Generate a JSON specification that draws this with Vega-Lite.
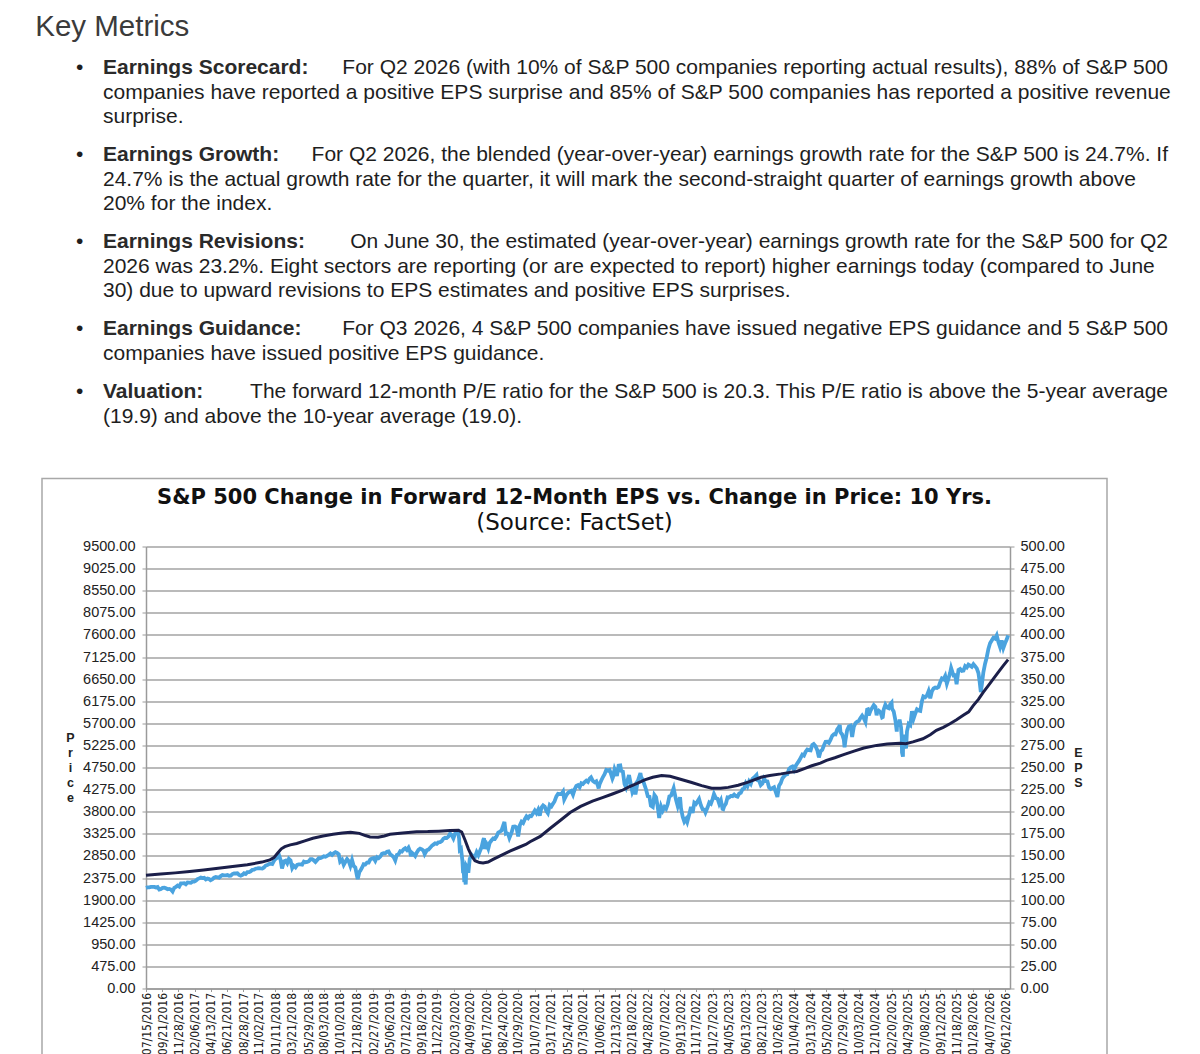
{
  "$schema": "https://vega.github.io/schema/vega-lite/v6.json",
  "background": "white",
  "padding": {"left": 35, "top": 11, "right": 0, "bottom": 0},
  "title": {
    "text": "Key Metrics",
    "anchor": "start",
    "frame": "bounds",
    "font": "Liberation Sans",
    "fontSize": 29.5,
    "fontWeight": "normal",
    "color": "#3b3b3b",
    "dx": -6,
    "offset": 14
  },
  "datasets": {
    "doc": [
      {"para": 1, "line": 1, "col": "bullet", "kind": "plain", "text": "•"},
      {"para": 1, "line": 1, "col": "text", "kind": "head", "text": "Earnings Scorecard:"},
      {"para": 1, "line": 1, "col": "text", "kind": "body", "text": "For Q2 2026 (with 10% of S&P 500 companies reporting actual results), 88% of S&P 500"},
      {"para": 1, "line": 2, "col": "text", "kind": "plain", "text": "companies have reported a positive EPS surprise and 85% of S&P 500 companies has reported a positive revenue"},
      {"para": 1, "line": 3, "col": "text", "kind": "plain", "text": "surprise."},
      {"para": 2, "line": 1, "col": "bullet", "kind": "plain", "text": "•"},
      {"para": 2, "line": 1, "col": "text", "kind": "head", "text": "Earnings Growth:"},
      {"para": 2, "line": 1, "col": "text", "kind": "body", "text": "For Q2 2026, the blended (year-over-year) earnings growth rate for the S&P 500 is 24.7%. If"},
      {"para": 2, "line": 2, "col": "text", "kind": "plain", "text": "24.7% is the actual growth rate for the quarter, it will mark the second-straight quarter of earnings growth above"},
      {"para": 2, "line": 3, "col": "text", "kind": "plain", "text": "20% for the index."},
      {"para": 3, "line": 1, "col": "bullet", "kind": "plain", "text": "•"},
      {"para": 3, "line": 1, "col": "text", "kind": "head", "text": "Earnings Revisions:"},
      {"para": 3, "line": 1, "col": "text", "kind": "body", "text": "On June 30, the estimated (year-over-year) earnings growth rate for the S&P 500 for Q2"},
      {"para": 3, "line": 2, "col": "text", "kind": "plain", "text": "2026 was 23.2%. Eight sectors are reporting (or are expected to report) higher earnings today (compared to June"},
      {"para": 3, "line": 3, "col": "text", "kind": "plain", "text": "30) due to upward revisions to EPS estimates and positive EPS surprises."},
      {"para": 4, "line": 1, "col": "bullet", "kind": "plain", "text": "•"},
      {"para": 4, "line": 1, "col": "text", "kind": "head", "text": "Earnings Guidance:"},
      {"para": 4, "line": 1, "col": "text", "kind": "body", "text": "For Q3 2026, 4 S&P 500 companies have issued negative EPS guidance and 5 S&P 500"},
      {"para": 4, "line": 2, "col": "text", "kind": "plain", "text": "companies have issued positive EPS guidance."},
      {"para": 5, "line": 1, "col": "bullet", "kind": "plain", "text": "•"},
      {"para": 5, "line": 1, "col": "text", "kind": "head", "text": "Valuation:"},
      {"para": 5, "line": 1, "col": "text", "kind": "body", "text": "The forward 12-month P/E ratio for the S&P 500 is 20.3. This P/E ratio is above the 5-year average"},
      {"para": 5, "line": 2, "col": "text", "kind": "plain", "text": "(19.9) and above the 10-year average (19.0)."}
    ],
    "price": [
      {"date": "2016-07-15", "price": 2162}, {"date": "2016-07-22", "price": 2175}, {"date": "2016-07-29", "price": 2174},
      {"date": "2016-08-05", "price": 2183}, {"date": "2016-08-12", "price": 2184}, {"date": "2016-08-19", "price": 2184},
      {"date": "2016-08-26", "price": 2169}, {"date": "2016-09-02", "price": 2180}, {"date": "2016-09-09", "price": 2128},
      {"date": "2016-09-16", "price": 2139}, {"date": "2016-09-23", "price": 2165}, {"date": "2016-09-30", "price": 2168},
      {"date": "2016-10-07", "price": 2153}, {"date": "2016-10-14", "price": 2133}, {"date": "2016-10-21", "price": 2141},
      {"date": "2016-10-28", "price": 2126}, {"date": "2016-11-04", "price": 2085}, {"date": "2016-11-11", "price": 2164},
      {"date": "2016-11-18", "price": 2182}, {"date": "2016-11-25", "price": 2213}, {"date": "2016-12-02", "price": 2192},
      {"date": "2016-12-09", "price": 2259}, {"date": "2016-12-16", "price": 2258}, {"date": "2016-12-23", "price": 2264},
      {"date": "2016-12-30", "price": 2239},
      {"date": "2017-01-06", "price": 2277}, {"date": "2017-01-13", "price": 2275}, {"date": "2017-01-20", "price": 2271},
      {"date": "2017-01-27", "price": 2295}, {"date": "2017-02-03", "price": 2297}, {"date": "2017-02-10", "price": 2316},
      {"date": "2017-02-17", "price": 2351}, {"date": "2017-02-24", "price": 2367}, {"date": "2017-03-03", "price": 2383},
      {"date": "2017-03-10", "price": 2373}, {"date": "2017-03-17", "price": 2378}, {"date": "2017-03-24", "price": 2344},
      {"date": "2017-03-31", "price": 2363}, {"date": "2017-04-07", "price": 2355}, {"date": "2017-04-13", "price": 2329},
      {"date": "2017-04-21", "price": 2349}, {"date": "2017-04-28", "price": 2384}, {"date": "2017-05-05", "price": 2399},
      {"date": "2017-05-12", "price": 2391}, {"date": "2017-05-19", "price": 2382}, {"date": "2017-05-26", "price": 2416},
      {"date": "2017-06-02", "price": 2439}, {"date": "2017-06-09", "price": 2432}, {"date": "2017-06-16", "price": 2433},
      {"date": "2017-06-23", "price": 2438}, {"date": "2017-06-30", "price": 2423}, {"date": "2017-07-07", "price": 2425},
      {"date": "2017-07-14", "price": 2459}, {"date": "2017-07-21", "price": 2473}, {"date": "2017-07-28", "price": 2472},
      {"date": "2017-08-04", "price": 2477}, {"date": "2017-08-11", "price": 2441}, {"date": "2017-08-18", "price": 2426},
      {"date": "2017-08-25", "price": 2443}, {"date": "2017-09-01", "price": 2477}, {"date": "2017-09-08", "price": 2461},
      {"date": "2017-09-15", "price": 2500}, {"date": "2017-09-22", "price": 2502}, {"date": "2017-09-29", "price": 2519},
      {"date": "2017-10-06", "price": 2549}, {"date": "2017-10-13", "price": 2553}, {"date": "2017-10-20", "price": 2575},
      {"date": "2017-10-27", "price": 2581}, {"date": "2017-11-03", "price": 2588}, {"date": "2017-11-10", "price": 2582},
      {"date": "2017-11-17", "price": 2578}, {"date": "2017-11-24", "price": 2602}, {"date": "2017-12-01", "price": 2642},
      {"date": "2017-12-08", "price": 2652}, {"date": "2017-12-15", "price": 2675}, {"date": "2017-12-22", "price": 2683},
      {"date": "2017-12-29", "price": 2674},
      {"date": "2018-01-05", "price": 2743}, {"date": "2018-01-12", "price": 2786}, {"date": "2018-01-19", "price": 2810},
      {"date": "2018-01-26", "price": 2873}, {"date": "2018-02-02", "price": 2762}, {"date": "2018-02-08", "price": 2581},
      {"date": "2018-02-16", "price": 2732}, {"date": "2018-02-23", "price": 2747}, {"date": "2018-03-02", "price": 2691},
      {"date": "2018-03-09", "price": 2786}, {"date": "2018-03-16", "price": 2752}, {"date": "2018-03-23", "price": 2588},
      {"date": "2018-03-29", "price": 2641}, {"date": "2018-04-06", "price": 2604}, {"date": "2018-04-13", "price": 2656},
      {"date": "2018-04-20", "price": 2670}, {"date": "2018-04-27", "price": 2670}, {"date": "2018-05-04", "price": 2663},
      {"date": "2018-05-11", "price": 2728}, {"date": "2018-05-18", "price": 2713}, {"date": "2018-05-25", "price": 2721},
      {"date": "2018-06-01", "price": 2735}, {"date": "2018-06-08", "price": 2779}, {"date": "2018-06-15", "price": 2780},
      {"date": "2018-06-22", "price": 2755}, {"date": "2018-06-29", "price": 2718}, {"date": "2018-07-06", "price": 2760},
      {"date": "2018-07-13", "price": 2801}, {"date": "2018-07-20", "price": 2802}, {"date": "2018-07-27", "price": 2819},
      {"date": "2018-08-03", "price": 2840}, {"date": "2018-08-10", "price": 2833}, {"date": "2018-08-17", "price": 2850},
      {"date": "2018-08-24", "price": 2875}, {"date": "2018-08-31", "price": 2902}, {"date": "2018-09-07", "price": 2872},
      {"date": "2018-09-14", "price": 2905}, {"date": "2018-09-21", "price": 2930}, {"date": "2018-09-28", "price": 2914},
      {"date": "2018-10-05", "price": 2885}, {"date": "2018-10-11", "price": 2728}, {"date": "2018-10-19", "price": 2768},
      {"date": "2018-10-26", "price": 2658}, {"date": "2018-11-02", "price": 2723}, {"date": "2018-11-09", "price": 2781},
      {"date": "2018-11-16", "price": 2736}, {"date": "2018-11-23", "price": 2633}, {"date": "2018-11-30", "price": 2760},
      {"date": "2018-12-07", "price": 2633}, {"date": "2018-12-14", "price": 2600}, {"date": "2018-12-21", "price": 2417},
      {"date": "2018-12-24", "price": 2351}, {"date": "2018-12-31", "price": 2507},
      {"date": "2019-01-04", "price": 2532}, {"date": "2019-01-11", "price": 2596}, {"date": "2019-01-18", "price": 2671},
      {"date": "2019-01-25", "price": 2665}, {"date": "2019-02-01", "price": 2707}, {"date": "2019-02-08", "price": 2708},
      {"date": "2019-02-15", "price": 2776}, {"date": "2019-02-22", "price": 2793}, {"date": "2019-03-01", "price": 2804},
      {"date": "2019-03-08", "price": 2743}, {"date": "2019-03-15", "price": 2822}, {"date": "2019-03-22", "price": 2800},
      {"date": "2019-03-29", "price": 2834}, {"date": "2019-04-05", "price": 2893}, {"date": "2019-04-12", "price": 2907},
      {"date": "2019-04-19", "price": 2905}, {"date": "2019-04-26", "price": 2940}, {"date": "2019-05-03", "price": 2946},
      {"date": "2019-05-10", "price": 2881}, {"date": "2019-05-17", "price": 2860}, {"date": "2019-05-24", "price": 2826},
      {"date": "2019-05-31", "price": 2752}, {"date": "2019-06-07", "price": 2873}, {"date": "2019-06-14", "price": 2887},
      {"date": "2019-06-21", "price": 2950}, {"date": "2019-06-28", "price": 2942}, {"date": "2019-07-05", "price": 2990},
      {"date": "2019-07-12", "price": 3014}, {"date": "2019-07-19", "price": 2977}, {"date": "2019-07-26", "price": 3026},
      {"date": "2019-08-02", "price": 2932}, {"date": "2019-08-05", "price": 2844}, {"date": "2019-08-09", "price": 2919},
      {"date": "2019-08-16", "price": 2889}, {"date": "2019-08-23", "price": 2847}, {"date": "2019-08-30", "price": 2926},
      {"date": "2019-09-06", "price": 2979}, {"date": "2019-09-13", "price": 3007}, {"date": "2019-09-20", "price": 2992},
      {"date": "2019-09-27", "price": 2962}, {"date": "2019-10-02", "price": 2887}, {"date": "2019-10-11", "price": 2970},
      {"date": "2019-10-18", "price": 2986}, {"date": "2019-10-25", "price": 3023}, {"date": "2019-11-01", "price": 3067},
      {"date": "2019-11-08", "price": 3093}, {"date": "2019-11-15", "price": 3120}, {"date": "2019-11-22", "price": 3110},
      {"date": "2019-11-29", "price": 3141}, {"date": "2019-12-06", "price": 3146}, {"date": "2019-12-13", "price": 3169},
      {"date": "2019-12-20", "price": 3221}, {"date": "2019-12-27", "price": 3240},
      {"date": "2020-01-03", "price": 3235}, {"date": "2020-01-10", "price": 3265}, {"date": "2020-01-17", "price": 3330},
      {"date": "2020-01-24", "price": 3295}, {"date": "2020-01-31", "price": 3226}, {"date": "2020-02-07", "price": 3328},
      {"date": "2020-02-14", "price": 3380}, {"date": "2020-02-19", "price": 3386}, {"date": "2020-02-24", "price": 3226},
      {"date": "2020-02-27", "price": 2979}, {"date": "2020-03-03", "price": 3003}, {"date": "2020-03-09", "price": 2747},
      {"date": "2020-03-12", "price": 2481}, {"date": "2020-03-13", "price": 2711}, {"date": "2020-03-16", "price": 2386},
      {"date": "2020-03-18", "price": 2398}, {"date": "2020-03-23", "price": 2237}, {"date": "2020-03-26", "price": 2630},
      {"date": "2020-03-31", "price": 2585}, {"date": "2020-04-03", "price": 2489}, {"date": "2020-04-09", "price": 2790},
      {"date": "2020-04-17", "price": 2875}, {"date": "2020-04-24", "price": 2837}, {"date": "2020-05-01", "price": 2830},
      {"date": "2020-05-08", "price": 2930}, {"date": "2020-05-15", "price": 2864}, {"date": "2020-05-22", "price": 2955},
      {"date": "2020-05-29", "price": 3044}, {"date": "2020-06-05", "price": 3194}, {"date": "2020-06-08", "price": 3232},
      {"date": "2020-06-11", "price": 3002}, {"date": "2020-06-19", "price": 3098}, {"date": "2020-06-26", "price": 3009},
      {"date": "2020-07-02", "price": 3130}, {"date": "2020-07-10", "price": 3185}, {"date": "2020-07-17", "price": 3225},
      {"date": "2020-07-24", "price": 3216}, {"date": "2020-07-31", "price": 3271}, {"date": "2020-08-07", "price": 3351},
      {"date": "2020-08-14", "price": 3373}, {"date": "2020-08-21", "price": 3397}, {"date": "2020-08-28", "price": 3508},
      {"date": "2020-09-02", "price": 3580}, {"date": "2020-09-08", "price": 3332}, {"date": "2020-09-11", "price": 3341},
      {"date": "2020-09-18", "price": 3319}, {"date": "2020-09-23", "price": 3237}, {"date": "2020-10-02", "price": 3348},
      {"date": "2020-10-09", "price": 3477}, {"date": "2020-10-16", "price": 3484}, {"date": "2020-10-23", "price": 3465},
      {"date": "2020-10-30", "price": 3270}, {"date": "2020-11-06", "price": 3510}, {"date": "2020-11-13", "price": 3585},
      {"date": "2020-11-20", "price": 3558}, {"date": "2020-11-27", "price": 3638}, {"date": "2020-12-04", "price": 3699},
      {"date": "2020-12-11", "price": 3663}, {"date": "2020-12-18", "price": 3709}, {"date": "2020-12-24", "price": 3703},
      {"date": "2020-12-31", "price": 3756},
      {"date": "2021-01-08", "price": 3825}, {"date": "2021-01-15", "price": 3768}, {"date": "2021-01-22", "price": 3841},
      {"date": "2021-01-29", "price": 3714}, {"date": "2021-02-05", "price": 3887}, {"date": "2021-02-12", "price": 3934},
      {"date": "2021-02-19", "price": 3907}, {"date": "2021-02-26", "price": 3811}, {"date": "2021-03-04", "price": 3768},
      {"date": "2021-03-12", "price": 3943}, {"date": "2021-03-19", "price": 3913}, {"date": "2021-03-26", "price": 3975},
      {"date": "2021-04-01", "price": 4020}, {"date": "2021-04-09", "price": 4129}, {"date": "2021-04-16", "price": 4185},
      {"date": "2021-04-23", "price": 4180}, {"date": "2021-04-30", "price": 4181}, {"date": "2021-05-07", "price": 4233},
      {"date": "2021-05-12", "price": 4063}, {"date": "2021-05-21", "price": 4156}, {"date": "2021-05-28", "price": 4204},
      {"date": "2021-06-04", "price": 4230}, {"date": "2021-06-11", "price": 4247}, {"date": "2021-06-18", "price": 4166},
      {"date": "2021-06-25", "price": 4281}, {"date": "2021-07-02", "price": 4352}, {"date": "2021-07-09", "price": 4370},
      {"date": "2021-07-16", "price": 4327}, {"date": "2021-07-23", "price": 4412}, {"date": "2021-07-30", "price": 4395},
      {"date": "2021-08-06", "price": 4437}, {"date": "2021-08-13", "price": 4468}, {"date": "2021-08-20", "price": 4442},
      {"date": "2021-08-27", "price": 4509}, {"date": "2021-09-02", "price": 4537}, {"date": "2021-09-10", "price": 4459},
      {"date": "2021-09-17", "price": 4433}, {"date": "2021-09-24", "price": 4455}, {"date": "2021-10-01", "price": 4357},
      {"date": "2021-10-04", "price": 4300}, {"date": "2021-10-08", "price": 4391}, {"date": "2021-10-15", "price": 4471},
      {"date": "2021-10-22", "price": 4545}, {"date": "2021-10-29", "price": 4605}, {"date": "2021-11-05", "price": 4697},
      {"date": "2021-11-12", "price": 4683}, {"date": "2021-11-19", "price": 4698}, {"date": "2021-11-26", "price": 4595},
      {"date": "2021-12-01", "price": 4513}, {"date": "2021-12-03", "price": 4538}, {"date": "2021-12-10", "price": 4712},
      {"date": "2021-12-17", "price": 4620}, {"date": "2021-12-20", "price": 4568}, {"date": "2021-12-27", "price": 4791},
      {"date": "2022-01-03", "price": 4797}, {"date": "2022-01-07", "price": 4677}, {"date": "2022-01-14", "price": 4663},
      {"date": "2022-01-21", "price": 4398}, {"date": "2022-01-27", "price": 4326}, {"date": "2022-02-04", "price": 4500},
      {"date": "2022-02-09", "price": 4587}, {"date": "2022-02-18", "price": 4349}, {"date": "2022-02-23", "price": 4225},
      {"date": "2022-03-04", "price": 4329}, {"date": "2022-03-08", "price": 4170}, {"date": "2022-03-18", "price": 4463},
      {"date": "2022-03-29", "price": 4632}, {"date": "2022-04-01", "price": 4546}, {"date": "2022-04-08", "price": 4488},
      {"date": "2022-04-14", "price": 4393}, {"date": "2022-04-22", "price": 4272}, {"date": "2022-04-29", "price": 4132},
      {"date": "2022-05-06", "price": 4123}, {"date": "2022-05-12", "price": 3930}, {"date": "2022-05-20", "price": 3901},
      {"date": "2022-05-27", "price": 4158}, {"date": "2022-06-03", "price": 4109}, {"date": "2022-06-10", "price": 3901},
      {"date": "2022-06-16", "price": 3667}, {"date": "2022-06-24", "price": 3912}, {"date": "2022-07-01", "price": 3825},
      {"date": "2022-07-08", "price": 3899}, {"date": "2022-07-15", "price": 3863}, {"date": "2022-07-22", "price": 3962},
      {"date": "2022-07-29", "price": 4130}, {"date": "2022-08-05", "price": 4145}, {"date": "2022-08-16", "price": 4305},
      {"date": "2022-08-19", "price": 4228}, {"date": "2022-08-26", "price": 4058}, {"date": "2022-09-02", "price": 3924},
      {"date": "2022-09-12", "price": 4110}, {"date": "2022-09-16", "price": 3873}, {"date": "2022-09-23", "price": 3693},
      {"date": "2022-09-30", "price": 3586}, {"date": "2022-10-07", "price": 3640}, {"date": "2022-10-12", "price": 3577},
      {"date": "2022-10-21", "price": 3752}, {"date": "2022-10-28", "price": 3901}, {"date": "2022-11-04", "price": 3771},
      {"date": "2022-11-11", "price": 3993}, {"date": "2022-11-18", "price": 3965}, {"date": "2022-11-25", "price": 4026},
      {"date": "2022-12-01", "price": 4076}, {"date": "2022-12-09", "price": 3934}, {"date": "2022-12-16", "price": 3852},
      {"date": "2022-12-23", "price": 3845}, {"date": "2022-12-28", "price": 3783},
      {"date": "2023-01-06", "price": 3895}, {"date": "2023-01-13", "price": 3999}, {"date": "2023-01-20", "price": 3973},
      {"date": "2023-01-27", "price": 4070}, {"date": "2023-02-02", "price": 4179}, {"date": "2023-02-10", "price": 4090},
      {"date": "2023-02-17", "price": 4079}, {"date": "2023-02-24", "price": 3970}, {"date": "2023-03-03", "price": 4045},
      {"date": "2023-03-10", "price": 3862}, {"date": "2023-03-13", "price": 3855}, {"date": "2023-03-17", "price": 3917},
      {"date": "2023-03-24", "price": 3971}, {"date": "2023-03-31", "price": 4109}, {"date": "2023-04-06", "price": 4105},
      {"date": "2023-04-14", "price": 4138}, {"date": "2023-04-21", "price": 4133}, {"date": "2023-04-28", "price": 4169},
      {"date": "2023-05-05", "price": 4136}, {"date": "2023-05-12", "price": 4124}, {"date": "2023-05-19", "price": 4191},
      {"date": "2023-05-26", "price": 4205}, {"date": "2023-06-02", "price": 4282}, {"date": "2023-06-09", "price": 4299},
      {"date": "2023-06-16", "price": 4410}, {"date": "2023-06-23", "price": 4348}, {"date": "2023-06-30", "price": 4450},
      {"date": "2023-07-07", "price": 4399}, {"date": "2023-07-14", "price": 4505}, {"date": "2023-07-21", "price": 4536},
      {"date": "2023-07-31", "price": 4589}, {"date": "2023-08-04", "price": 4478}, {"date": "2023-08-11", "price": 4464},
      {"date": "2023-08-18", "price": 4370}, {"date": "2023-08-25", "price": 4406}, {"date": "2023-09-01", "price": 4515},
      {"date": "2023-09-08", "price": 4457}, {"date": "2023-09-15", "price": 4450}, {"date": "2023-09-22", "price": 4320},
      {"date": "2023-09-29", "price": 4288}, {"date": "2023-10-06", "price": 4308}, {"date": "2023-10-13", "price": 4327},
      {"date": "2023-10-20", "price": 4224}, {"date": "2023-10-27", "price": 4117}, {"date": "2023-11-03", "price": 4358},
      {"date": "2023-11-10", "price": 4415}, {"date": "2023-11-17", "price": 4514}, {"date": "2023-11-24", "price": 4559},
      {"date": "2023-12-01", "price": 4595}, {"date": "2023-12-08", "price": 4604}, {"date": "2023-12-15", "price": 4719},
      {"date": "2023-12-22", "price": 4754}, {"date": "2023-12-29", "price": 4770},
      {"date": "2024-01-05", "price": 4697}, {"date": "2024-01-12", "price": 4784}, {"date": "2024-01-19", "price": 4840},
      {"date": "2024-01-26", "price": 4891}, {"date": "2024-02-02", "price": 4959}, {"date": "2024-02-09", "price": 5027},
      {"date": "2024-02-16", "price": 5006}, {"date": "2024-02-23", "price": 5089}, {"date": "2024-03-01", "price": 5137},
      {"date": "2024-03-08", "price": 5124}, {"date": "2024-03-15", "price": 5117}, {"date": "2024-03-22", "price": 5234},
      {"date": "2024-03-28", "price": 5254}, {"date": "2024-04-05", "price": 5204}, {"date": "2024-04-12", "price": 5123},
      {"date": "2024-04-19", "price": 4967}, {"date": "2024-04-26", "price": 5100}, {"date": "2024-05-03", "price": 5128},
      {"date": "2024-05-10", "price": 5223}, {"date": "2024-05-17", "price": 5303}, {"date": "2024-05-24", "price": 5305},
      {"date": "2024-05-31", "price": 5278}, {"date": "2024-06-07", "price": 5347}, {"date": "2024-06-14", "price": 5432},
      {"date": "2024-06-21", "price": 5465}, {"date": "2024-06-28", "price": 5460}, {"date": "2024-07-05", "price": 5567},
      {"date": "2024-07-12", "price": 5615}, {"date": "2024-07-16", "price": 5667}, {"date": "2024-07-19", "price": 5505},
      {"date": "2024-07-26", "price": 5459}, {"date": "2024-08-02", "price": 5347}, {"date": "2024-08-05", "price": 5186},
      {"date": "2024-08-09", "price": 5344}, {"date": "2024-08-16", "price": 5554}, {"date": "2024-08-23", "price": 5634},
      {"date": "2024-08-30", "price": 5648}, {"date": "2024-09-06", "price": 5408}, {"date": "2024-09-13", "price": 5626},
      {"date": "2024-09-20", "price": 5703}, {"date": "2024-09-27", "price": 5738}, {"date": "2024-10-04", "price": 5751},
      {"date": "2024-10-11", "price": 5815}, {"date": "2024-10-18", "price": 5864}, {"date": "2024-10-25", "price": 5808},
      {"date": "2024-11-01", "price": 5729}, {"date": "2024-11-08", "price": 5995}, {"date": "2024-11-11", "price": 6001},
      {"date": "2024-11-15", "price": 5870}, {"date": "2024-11-22", "price": 5969}, {"date": "2024-11-29", "price": 6032},
      {"date": "2024-12-06", "price": 6090}, {"date": "2024-12-13", "price": 6051}, {"date": "2024-12-18", "price": 5872},
      {"date": "2024-12-20", "price": 5930}, {"date": "2024-12-27", "price": 5971},
      {"date": "2025-01-03", "price": 5942}, {"date": "2025-01-10", "price": 5827}, {"date": "2025-01-13", "price": 5836},
      {"date": "2025-01-17", "price": 5997}, {"date": "2025-01-24", "price": 6101}, {"date": "2025-01-31", "price": 6041},
      {"date": "2025-02-07", "price": 6026}, {"date": "2025-02-14", "price": 6115}, {"date": "2025-02-19", "price": 6144},
      {"date": "2025-02-21", "price": 6013}, {"date": "2025-02-28", "price": 5955}, {"date": "2025-03-07", "price": 5770},
      {"date": "2025-03-13", "price": 5522}, {"date": "2025-03-14", "price": 5639}, {"date": "2025-03-21", "price": 5668},
      {"date": "2025-03-25", "price": 5777}, {"date": "2025-03-31", "price": 5612}, {"date": "2025-04-03", "price": 5397},
      {"date": "2025-04-04", "price": 5074}, {"date": "2025-04-08", "price": 4982}, {"date": "2025-04-09", "price": 5457},
      {"date": "2025-04-11", "price": 5363}, {"date": "2025-04-21", "price": 5158}, {"date": "2025-04-25", "price": 5525},
      {"date": "2025-05-02", "price": 5687}, {"date": "2025-05-09", "price": 5660}, {"date": "2025-05-16", "price": 5958},
      {"date": "2025-05-23", "price": 5803}, {"date": "2025-05-30", "price": 5912}, {"date": "2025-06-06", "price": 6000},
      {"date": "2025-06-13", "price": 5977}, {"date": "2025-06-20", "price": 5968}, {"date": "2025-06-27", "price": 6173},
      {"date": "2025-07-03", "price": 6279}, {"date": "2025-07-11", "price": 6260}, {"date": "2025-07-18", "price": 6297},
      {"date": "2025-07-25", "price": 6389}, {"date": "2025-08-01", "price": 6238}, {"date": "2025-08-08", "price": 6389},
      {"date": "2025-08-15", "price": 6449}, {"date": "2025-08-22", "price": 6467}, {"date": "2025-08-29", "price": 6460},
      {"date": "2025-09-05", "price": 6482}, {"date": "2025-09-12", "price": 6584}, {"date": "2025-09-19", "price": 6664},
      {"date": "2025-09-26", "price": 6644}, {"date": "2025-10-03", "price": 6716}, {"date": "2025-10-10", "price": 6553},
      {"date": "2025-10-17", "price": 6664}, {"date": "2025-10-24", "price": 6791}, {"date": "2025-10-28", "price": 6890},
      {"date": "2025-11-07", "price": 6728}, {"date": "2025-11-14", "price": 6734}, {"date": "2025-11-20", "price": 6538},
      {"date": "2025-11-28", "price": 6849}, {"date": "2025-12-05", "price": 6870}, {"date": "2025-12-12", "price": 6827},
      {"date": "2025-12-19", "price": 6834}, {"date": "2025-12-26", "price": 6930},
      {"date": "2026-01-02", "price": 6900}, {"date": "2026-01-09", "price": 6960}, {"date": "2026-01-16", "price": 6940},
      {"date": "2026-01-23", "price": 6915}, {"date": "2026-01-30", "price": 6970}, {"date": "2026-02-06", "price": 6930},
      {"date": "2026-02-13", "price": 6880}, {"date": "2026-02-20", "price": 6780}, {"date": "2026-02-25", "price": 6600},
      {"date": "2026-03-02", "price": 6370}, {"date": "2026-03-06", "price": 6520}, {"date": "2026-03-13", "price": 6800},
      {"date": "2026-03-20", "price": 6980}, {"date": "2026-03-27", "price": 7120}, {"date": "2026-04-03", "price": 7300},
      {"date": "2026-04-10", "price": 7420}, {"date": "2026-04-17", "price": 7480}, {"date": "2026-04-24", "price": 7540},
      {"date": "2026-05-01", "price": 7520}, {"date": "2026-05-08", "price": 7590}, {"date": "2026-05-15", "price": 7450},
      {"date": "2026-05-22", "price": 7340}, {"date": "2026-05-29", "price": 7480}, {"date": "2026-06-05", "price": 7320},
      {"date": "2026-06-12", "price": 7420}, {"date": "2026-06-19", "price": 7500}, {"date": "2026-06-25", "price": 7590}
    ],
    "eps": [
      {"date": "2016-07-15", "eps": 128}, {"date": "2016-09-15", "eps": 129.5}, {"date": "2016-11-15", "eps": 130.8},
      {"date": "2017-01-15", "eps": 132.3}, {"date": "2017-03-15", "eps": 134}, {"date": "2017-05-15", "eps": 136},
      {"date": "2017-07-15", "eps": 138}, {"date": "2017-09-15", "eps": 140}, {"date": "2017-11-15", "eps": 143},
      {"date": "2017-12-19", "eps": 145.5}, {"date": "2018-01-05", "eps": 148}, {"date": "2018-01-20", "eps": 153},
      {"date": "2018-02-05", "eps": 158}, {"date": "2018-02-20", "eps": 160.5}, {"date": "2018-03-15", "eps": 162.5},
      {"date": "2018-04-11", "eps": 164}, {"date": "2018-05-15", "eps": 167}, {"date": "2018-06-18", "eps": 170},
      {"date": "2018-07-31", "eps": 172.5}, {"date": "2018-09-11", "eps": 174.5}, {"date": "2018-10-20", "eps": 176},
      {"date": "2018-11-24", "eps": 176.8}, {"date": "2018-12-31", "eps": 175.5}, {"date": "2019-01-25", "eps": 173},
      {"date": "2019-02-14", "eps": 171.5}, {"date": "2019-03-20", "eps": 171}, {"date": "2019-04-15", "eps": 172.5},
      {"date": "2019-05-09", "eps": 174.5}, {"date": "2019-07-01", "eps": 176}, {"date": "2019-08-29", "eps": 177.3},
      {"date": "2019-10-15", "eps": 177.5}, {"date": "2019-12-01", "eps": 178}, {"date": "2020-01-17", "eps": 178.7},
      {"date": "2020-02-21", "eps": 179}, {"date": "2020-03-06", "eps": 177}, {"date": "2020-03-20", "eps": 168},
      {"date": "2020-04-03", "eps": 158}, {"date": "2020-04-17", "eps": 150}, {"date": "2020-05-01", "eps": 144.5},
      {"date": "2020-05-20", "eps": 142.5}, {"date": "2020-06-04", "eps": 142}, {"date": "2020-06-25", "eps": 143},
      {"date": "2020-07-16", "eps": 146}, {"date": "2020-08-15", "eps": 150}, {"date": "2020-09-25", "eps": 155.5},
      {"date": "2020-10-31", "eps": 159.5}, {"date": "2020-12-01", "eps": 163}, {"date": "2020-12-19", "eps": 166},
      {"date": "2021-01-31", "eps": 172}, {"date": "2021-03-13", "eps": 181}, {"date": "2021-04-25", "eps": 190},
      {"date": "2021-06-06", "eps": 199}, {"date": "2021-07-20", "eps": 206}, {"date": "2021-09-08", "eps": 212},
      {"date": "2021-10-20", "eps": 216}, {"date": "2021-12-01", "eps": 220}, {"date": "2022-01-10", "eps": 224},
      {"date": "2022-02-09", "eps": 228}, {"date": "2022-03-15", "eps": 232}, {"date": "2022-04-16", "eps": 236},
      {"date": "2022-05-20", "eps": 239}, {"date": "2022-06-26", "eps": 241}, {"date": "2022-08-01", "eps": 240},
      {"date": "2022-09-10", "eps": 237}, {"date": "2022-10-31", "eps": 233}, {"date": "2022-12-12", "eps": 229.5},
      {"date": "2023-01-23", "eps": 226.5}, {"date": "2023-03-01", "eps": 226.5}, {"date": "2023-04-03", "eps": 227.5},
      {"date": "2023-05-15", "eps": 230}, {"date": "2023-06-26", "eps": 233.5}, {"date": "2023-08-19", "eps": 239},
      {"date": "2023-09-25", "eps": 241}, {"date": "2023-11-11", "eps": 242.8}, {"date": "2023-12-19", "eps": 244.5},
      {"date": "2024-01-16", "eps": 245.5}, {"date": "2024-02-15", "eps": 248.5}, {"date": "2024-03-20", "eps": 252},
      {"date": "2024-04-25", "eps": 255}, {"date": "2024-05-21", "eps": 258}, {"date": "2024-06-25", "eps": 261},
      {"date": "2024-08-01", "eps": 264.5}, {"date": "2024-09-14", "eps": 268.5}, {"date": "2024-10-25", "eps": 272},
      {"date": "2024-12-18", "eps": 275}, {"date": "2025-02-01", "eps": 276.5}, {"date": "2025-03-26", "eps": 277.5},
      {"date": "2025-04-20", "eps": 277}, {"date": "2025-05-20", "eps": 279}, {"date": "2025-07-01", "eps": 282.5},
      {"date": "2025-08-01", "eps": 287}, {"date": "2025-08-27", "eps": 292}, {"date": "2025-09-25", "eps": 295.5},
      {"date": "2025-10-23", "eps": 299.5}, {"date": "2025-11-20", "eps": 304}, {"date": "2025-12-18", "eps": 309},
      {"date": "2026-01-10", "eps": 313}, {"date": "2026-01-29", "eps": 320}, {"date": "2026-02-20", "eps": 327},
      {"date": "2026-03-12", "eps": 335}, {"date": "2026-04-01", "eps": 342}, {"date": "2026-04-23", "eps": 350},
      {"date": "2026-05-15", "eps": 358}, {"date": "2026-06-04", "eps": 365}, {"date": "2026-06-25", "eps": 372}
    ]
  },
  "spacing": 48.5,
  "vconcat": [
    {
      "spacing": 14,
      "bounds": "flush",
      "vconcat": [
        {
          "width": 1126, "height": 73,
          "data": {"name": "doc"},
          "transform": [{"filter": "datum.para == 1"}],
          "encoding": {"y": {"field": "line", "type": "ordinal", "scale": {"type": "point", "padding": 0.5}, "axis": null}},
          "layer": [
            {"transform": [{"filter": "datum.kind == 'plain'"}], "mark": {"type": "text", "align": "left", "baseline": "middle", "font": "Liberation Sans", "fontSize": 21, "color": "#1e1e1e"},
             "encoding": {"x": {"field": "col", "type": "nominal", "scale": {"type": "point", "domain": ["bullet", "text"], "range": [34, 61], "padding": 0}, "axis": null}, "text": {"field": "text"}}},
            {"transform": [{"filter": "datum.kind == 'head'"}], "mark": {"type": "text", "align": "left", "baseline": "middle", "font": "Liberation Sans", "fontSize": 21, "fontWeight": "bold", "color": "#2a2a2a"},
             "encoding": {"x": {"field": "col", "type": "nominal", "scale": {"type": "point", "domain": ["bullet", "text"], "range": [34, 61], "padding": 0}, "axis": null}, "text": {"field": "text"}}},
            {"transform": [{"filter": "datum.kind == 'body'"}], "mark": {"type": "text", "align": "right", "baseline": "middle", "font": "Liberation Sans", "fontSize": 21, "color": "#1e1e1e"},
             "encoding": {"x": {"value": "width"}, "text": {"field": "text"}}}
          ]
        },
        {
          "width": 1126, "height": 73,
          "data": {"name": "doc"},
          "transform": [{"filter": "datum.para == 2"}],
          "encoding": {"y": {"field": "line", "type": "ordinal", "scale": {"type": "point", "padding": 0.5}, "axis": null}},
          "layer": [
            {"transform": [{"filter": "datum.kind == 'plain'"}], "mark": {"type": "text", "align": "left", "baseline": "middle", "font": "Liberation Sans", "fontSize": 21, "color": "#1e1e1e"},
             "encoding": {"x": {"field": "col", "type": "nominal", "scale": {"type": "point", "domain": ["bullet", "text"], "range": [34, 61], "padding": 0}, "axis": null}, "text": {"field": "text"}}},
            {"transform": [{"filter": "datum.kind == 'head'"}], "mark": {"type": "text", "align": "left", "baseline": "middle", "font": "Liberation Sans", "fontSize": 21, "fontWeight": "bold", "color": "#2a2a2a"},
             "encoding": {"x": {"field": "col", "type": "nominal", "scale": {"type": "point", "domain": ["bullet", "text"], "range": [34, 61], "padding": 0}, "axis": null}, "text": {"field": "text"}}},
            {"transform": [{"filter": "datum.kind == 'body'"}], "mark": {"type": "text", "align": "right", "baseline": "middle", "font": "Liberation Sans", "fontSize": 21, "color": "#1e1e1e"},
             "encoding": {"x": {"value": "width"}, "text": {"field": "text"}}}
          ]
        },
        {
          "width": 1126, "height": 73,
          "data": {"name": "doc"},
          "transform": [{"filter": "datum.para == 3"}],
          "encoding": {"y": {"field": "line", "type": "ordinal", "scale": {"type": "point", "padding": 0.5}, "axis": null}},
          "layer": [
            {"transform": [{"filter": "datum.kind == 'plain'"}], "mark": {"type": "text", "align": "left", "baseline": "middle", "font": "Liberation Sans", "fontSize": 21, "color": "#1e1e1e"},
             "encoding": {"x": {"field": "col", "type": "nominal", "scale": {"type": "point", "domain": ["bullet", "text"], "range": [34, 61], "padding": 0}, "axis": null}, "text": {"field": "text"}}},
            {"transform": [{"filter": "datum.kind == 'head'"}], "mark": {"type": "text", "align": "left", "baseline": "middle", "font": "Liberation Sans", "fontSize": 21, "fontWeight": "bold", "color": "#2a2a2a"},
             "encoding": {"x": {"field": "col", "type": "nominal", "scale": {"type": "point", "domain": ["bullet", "text"], "range": [34, 61], "padding": 0}, "axis": null}, "text": {"field": "text"}}},
            {"transform": [{"filter": "datum.kind == 'body'"}], "mark": {"type": "text", "align": "right", "baseline": "middle", "font": "Liberation Sans", "fontSize": 21, "color": "#1e1e1e"},
             "encoding": {"x": {"value": "width"}, "text": {"field": "text"}}}
          ]
        },
        {
          "width": 1126, "height": 49,
          "data": {"name": "doc"},
          "transform": [{"filter": "datum.para == 4"}],
          "encoding": {"y": {"field": "line", "type": "ordinal", "scale": {"type": "point", "padding": 0.5}, "axis": null}},
          "layer": [
            {"transform": [{"filter": "datum.kind == 'plain'"}], "mark": {"type": "text", "align": "left", "baseline": "middle", "font": "Liberation Sans", "fontSize": 21, "color": "#1e1e1e"},
             "encoding": {"x": {"field": "col", "type": "nominal", "scale": {"type": "point", "domain": ["bullet", "text"], "range": [34, 61], "padding": 0}, "axis": null}, "text": {"field": "text"}}},
            {"transform": [{"filter": "datum.kind == 'head'"}], "mark": {"type": "text", "align": "left", "baseline": "middle", "font": "Liberation Sans", "fontSize": 21, "fontWeight": "bold", "color": "#2a2a2a"},
             "encoding": {"x": {"field": "col", "type": "nominal", "scale": {"type": "point", "domain": ["bullet", "text"], "range": [34, 61], "padding": 0}, "axis": null}, "text": {"field": "text"}}},
            {"transform": [{"filter": "datum.kind == 'body'"}], "mark": {"type": "text", "align": "right", "baseline": "middle", "font": "Liberation Sans", "fontSize": 21, "color": "#1e1e1e"},
             "encoding": {"x": {"value": "width"}, "text": {"field": "text"}}}
          ]
        },
        {
          "width": 1126, "height": 49,
          "data": {"name": "doc"},
          "transform": [{"filter": "datum.para == 5"}],
          "encoding": {"y": {"field": "line", "type": "ordinal", "scale": {"type": "point", "padding": 0.5}, "axis": null}},
          "layer": [
            {"transform": [{"filter": "datum.kind == 'plain'"}], "mark": {"type": "text", "align": "left", "baseline": "middle", "font": "Liberation Sans", "fontSize": 21, "color": "#1e1e1e"},
             "encoding": {"x": {"field": "col", "type": "nominal", "scale": {"type": "point", "domain": ["bullet", "text"], "range": [34, 61], "padding": 0}, "axis": null}, "text": {"field": "text"}}},
            {"transform": [{"filter": "datum.kind == 'head'"}], "mark": {"type": "text", "align": "left", "baseline": "middle", "font": "Liberation Sans", "fontSize": 21, "fontWeight": "bold", "color": "#2a2a2a"},
             "encoding": {"x": {"field": "col", "type": "nominal", "scale": {"type": "point", "domain": ["bullet", "text"], "range": [34, 61], "padding": 0}, "axis": null}, "text": {"field": "text"}}},
            {"transform": [{"filter": "datum.kind == 'body'"}], "mark": {"type": "text", "align": "right", "baseline": "middle", "font": "Liberation Sans", "fontSize": 21, "color": "#1e1e1e"},
             "encoding": {"x": {"value": "width"}, "text": {"field": "text"}}}
          ]
        }
      ]
    },
    {
      "width": 1065,
      "height": 580,
      "view": {"stroke": "#a8a8a8", "strokeWidth": 1.5},
      "title": {
        "text": "S&P 500 Change in Forward 12-Month EPS vs. Change in Price: 10 Yrs.",
        "subtitle": "(Source: FactSet)",
        "anchor": "middle",
        "frame": "group",
        "offset": -56,
        "font": "DejaVu Sans",
        "fontSize": 21,
        "fontWeight": "bold",
        "color": "#111111",
        "subtitleFont": "DejaVu Sans",
        "subtitleFontSize": 23,
        "subtitleColor": "#111111",
        "subtitlePadding": 4
      },
      "encoding": {
        "x": {
          "field": "date", "type": "temporal",
          "scale": {"type": "utc", "domain": [{"year": 2016, "month": 7, "date": 15, "utc": true}, {"year": 2026, "month": 7, "date": 3, "utc": true}], "range": [104, 968]},
          "axis": {
            "orient": "bottom", "offset": -70, "title": null, "grid": false,
            "format": "%m/%d/%Y", "labelAngle": 270, "labelFlush": false, "labelOverlap": false, "labelBound": false,
            "labelFont": "DejaVu Sans Condensed, Liberation Sans, sans-serif", "labelFontSize": 12, "labelColor": "#222222", "labelPadding": 1,
            "tickSize": 3, "tickColor": "#9a9a9a", "domainColor": "#9a9a9a", "domainWidth": 1.5,
            "values": [
              {"year": 2016, "month": 7, "date": 15, "utc": true}, {"year": 2016, "month": 9, "date": 21, "utc": true},
              {"year": 2016, "month": 11, "date": 28, "utc": true}, {"year": 2017, "month": 2, "date": 6, "utc": true},
              {"year": 2017, "month": 4, "date": 13, "utc": true}, {"year": 2017, "month": 6, "date": 21, "utc": true},
              {"year": 2017, "month": 8, "date": 28, "utc": true}, {"year": 2017, "month": 11, "date": 2, "utc": true},
              {"year": 2018, "month": 1, "date": 11, "utc": true}, {"year": 2018, "month": 3, "date": 21, "utc": true},
              {"year": 2018, "month": 5, "date": 29, "utc": true}, {"year": 2018, "month": 8, "date": 3, "utc": true},
              {"year": 2018, "month": 10, "date": 10, "utc": true}, {"year": 2018, "month": 12, "date": 18, "utc": true},
              {"year": 2019, "month": 2, "date": 27, "utc": true}, {"year": 2019, "month": 5, "date": 6, "utc": true},
              {"year": 2019, "month": 7, "date": 12, "utc": true}, {"year": 2019, "month": 9, "date": 18, "utc": true},
              {"year": 2019, "month": 11, "date": 22, "utc": true}, {"year": 2020, "month": 2, "date": 3, "utc": true},
              {"year": 2020, "month": 4, "date": 9, "utc": true}, {"year": 2020, "month": 6, "date": 17, "utc": true},
              {"year": 2020, "month": 8, "date": 24, "utc": true}, {"year": 2020, "month": 10, "date": 29, "utc": true},
              {"year": 2021, "month": 1, "date": 7, "utc": true}, {"year": 2021, "month": 3, "date": 17, "utc": true},
              {"year": 2021, "month": 5, "date": 24, "utc": true}, {"year": 2021, "month": 7, "date": 30, "utc": true},
              {"year": 2021, "month": 10, "date": 6, "utc": true}, {"year": 2021, "month": 12, "date": 13, "utc": true},
              {"year": 2022, "month": 2, "date": 18, "utc": true}, {"year": 2022, "month": 4, "date": 28, "utc": true},
              {"year": 2022, "month": 7, "date": 7, "utc": true}, {"year": 2022, "month": 9, "date": 13, "utc": true},
              {"year": 2022, "month": 11, "date": 17, "utc": true}, {"year": 2023, "month": 1, "date": 27, "utc": true},
              {"year": 2023, "month": 4, "date": 5, "utc": true}, {"year": 2023, "month": 6, "date": 13, "utc": true},
              {"year": 2023, "month": 8, "date": 21, "utc": true}, {"year": 2023, "month": 10, "date": 26, "utc": true},
              {"year": 2024, "month": 1, "date": 4, "utc": true}, {"year": 2024, "month": 3, "date": 13, "utc": true},
              {"year": 2024, "month": 5, "date": 20, "utc": true}, {"year": 2024, "month": 7, "date": 29, "utc": true},
              {"year": 2024, "month": 10, "date": 3, "utc": true}, {"year": 2024, "month": 12, "date": 10, "utc": true},
              {"year": 2025, "month": 2, "date": 20, "utc": true}, {"year": 2025, "month": 4, "date": 29, "utc": true},
              {"year": 2025, "month": 7, "date": 8, "utc": true}, {"year": 2025, "month": 9, "date": 12, "utc": true},
              {"year": 2025, "month": 11, "date": 18, "utc": true}, {"year": 2026, "month": 1, "date": 28, "utc": true},
              {"year": 2026, "month": 4, "date": 7, "utc": true}, {"year": 2026, "month": 6, "date": 12, "utc": true}
            ]
          }
        }
      },
      "layer": [
        {
          "data": {"name": "price"},
          "mark": {"type": "line", "color": "#4aa3df", "strokeWidth": 3.8},
          "encoding": {
            "y": {
              "field": "price", "type": "quantitative",
              "scale": {"domain": [0, 9500], "range": [510, 68], "nice": false, "zero": true},
              "axis": {
                "orient": "left", "offset": -104, "format": ".2f",
                "values": [0, 475, 950, 1425, 1900, 2375, 2850, 3325, 3800, 4275, 4750, 5225, 5700, 6175, 6650, 7125, 7600, 8075, 8550, 9025, 9500],
                "labelFont": "Liberation Sans", "labelFontSize": 14.5, "labelColor": "#222222", "labelPadding": 7, "labelOverlap": false,
                "tickSize": 4, "tickColor": "#9a9a9a", "domainColor": "#9a9a9a", "domainWidth": 1.5,
                "grid": true, "gridColor": "#a3a3a3", "gridWidth": 1.3,
                "title": ["P", "r", "i", "c", "e"], "titleAngle": 0, "titleAlign": "center", "titleBaseline": "middle",
                "titleFont": "Liberation Sans", "titleFontSize": 12.5, "titleFontWeight": "bold", "titleColor": "#222222",
                "titleLineHeight": 15, "titleX": -76, "titleY": 259
              }
            }
          }
        },
        {
          "data": {"name": "eps"},
          "mark": {"type": "line", "color": "#1b1f4a", "strokeWidth": 3},
          "encoding": {
            "y": {
              "field": "eps", "type": "quantitative",
              "scale": {"domain": [0, 500], "range": [510, 68], "nice": false, "zero": true},
              "axis": {
                "orient": "right", "offset": -97, "format": ".2f",
                "values": [0, 25, 50, 75, 100, 125, 150, 175, 200, 225, 250, 275, 300, 325, 350, 375, 400, 425, 450, 475, 500],
                "labelFont": "Liberation Sans", "labelFontSize": 14.5, "labelColor": "#222222", "labelPadding": 6, "labelOverlap": false,
                "tickSize": 4, "tickColor": "#9a9a9a", "domainColor": "#9a9a9a", "domainWidth": 1.5,
                "grid": false,
                "title": ["E", "P", "S"], "titleAngle": 0, "titleAlign": "center", "titleBaseline": "middle",
                "titleFont": "Liberation Sans", "titleFontSize": 12.5, "titleFontWeight": "bold", "titleColor": "#222222",
                "titleLineHeight": 15, "titleX": 68, "titleY": 274
              }
            }
          }
        }
      ],
      "resolve": {"scale": {"y": "independent"}, "axis": {"y": "independent"}}
    }
  ],
  "config": {
    "view": {"stroke": null},
    "font": "Liberation Sans",
    "axisX": {"labelOverlap": false}
  }
}
